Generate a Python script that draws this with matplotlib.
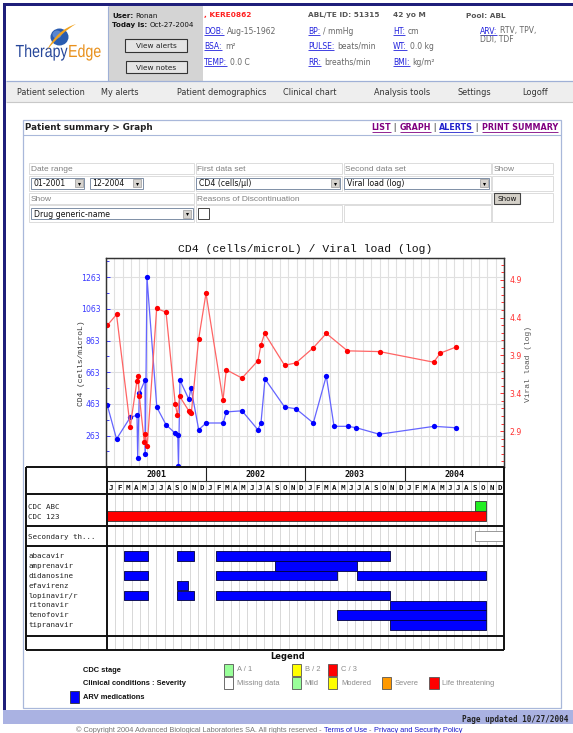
import numpy as np
import matplotlib
matplotlib.use("Agg")
import matplotlib.pyplot as plt
from matplotlib.patches import Rectangle, Ellipse, PathPatch
from matplotlib.path import Path
from matplotlib.textpath import TextPath
from matplotlib.font_manager import FontProperties
from matplotlib.transforms import Affine2D

W, H = 573, 733

# measurements, x = months counted from Jan 2001
cd4_month = [0.16, 1.27, 2.93, 3.74, 3.82, 4.02, 4.70, 4.74, 4.94, 6.13,
             7.24, 8.35, 8.65, 8.74, 8.92, 9.99, 10.25, 11.18, 12.08, 14.13,
             14.51, 16.40, 18.31, 18.69, 19.18, 21.54, 22.91, 25.00, 26.57, 27.50,
             29.15, 30.19, 32.96, 39.56, 42.21]
cd4_value = [455, 242, 379, 392, 122, 531, 613, 149, 1263, 442,
             332, 278, 269, 72, 613, 493, 564, 301, 343, 343,
             413, 420, 301, 343, 621, 444, 433, 343, 640, 322,
             322, 313, 272, 322, 313]
vl_month = [0.18, 1.27, 2.92, 3.73, 3.84, 4.02, 4.61, 4.74, 4.97, 6.11,
            7.24, 8.35, 8.62, 8.88, 9.97, 10.17, 10.29, 11.18, 12.06, 14.11,
            14.51, 16.40, 18.33, 18.69, 19.14, 21.53, 22.91, 25.00, 26.57, 29.12,
            33.00, 39.52, 40.32, 42.21]
vl_value = [4.30, 4.44, 2.96, 3.56, 3.63, 3.36, 2.76, 2.86, 2.70, 4.52,
            4.47, 3.26, 3.11, 3.36, 3.17, 3.15, 3.14, 4.12, 4.72, 3.31,
            3.71, 3.60, 3.83, 4.04, 4.19, 3.77, 3.80, 4.00, 4.19, 3.96,
            3.95, 3.81, 3.93, 4.01]

cd4_ticks = [263, 463, 663, 863, 1063, 1263]
cd4_minor = [163, 363, 563, 763, 963, 1163, 1363]
vl_ticks = [2.9, 3.4, 3.9, 4.4, 4.9]
years = ["2001", "2002", "2003", "2004"]
month_letters = list("JFMAMJJASOND")

today = 45.87
cdc_abc = [(44.5, today)]
cdc_123 = [(0.0, today)]
secondary = [(44.5, 48.0)]

drug_names = ["abacavir", "amprenavir", "didanosine", "efavirenz",
              "lopinavir/r", "ritonavir", "tenofovir", "tipranavir"]
abacavir = [(2.1, 5.0), (8.45, 10.5), (13.25, 34.3)]
amprenavir = [(20.3, 30.25)]
didanosine = [(2.1, 5.0), (13.25, 27.85), (30.25, today)]
efavirenz = [(8.45, 9.8)]
lopinavir = [(2.1, 5.0), (8.45, 10.5), (13.25, 34.3)]
ritonavir = [(34.3, today)]
tenofovir = [(27.85, today)]
tipranavir = [(34.3, today)]
drug_periods = [abacavir, amprenavir, didanosine, efavirenz,
                lopinavir, ritonavir, tenofovir, tipranavir]

plt.rcParams['font.family'] = ['DejaVu Sans']

fig = plt.figure(figsize=(W / 100, H / 100), dpi=100)
pg = fig.add_axes([0, 0, 1, 1])
pg.set_xlim(0, W)
pg.set_ylim(H, 0)
pg.axis("off")
R = fig.canvas.get_renderer()

BLUE_LINK = "#2222dd"
GRAY = "#666666"


def box(x0, y0, x1, y1, fc="none", ec="none", lw=0.8, ax=pg):
    ax.add_patch(Rectangle((x0, y0), x1 - x0, y1 - y0, facecolor=fc,
                           edgecolor=ec, linewidth=lw))


def line(xs, ys, color, lw=0.8, ax=pg):
    ax.plot(xs, ys, color=color, lw=lw, solid_capstyle="butt")


def txt(x, y, s, size=5.5, color="#333333", weight="normal",
        family="DejaVu Sans", ha="left", va="baseline", ax=pg, **kw):
    return ax.text(x, y, s, fontsize=size, color=color, fontweight=weight,
                   family=family, ha=ha, va=va, **kw)


def width(t):
    return t.get_window_extent(R).width


def pair(x, y, label, value, size=5.5):
    t = txt(x, y, label, size, BLUE_LINK)
    w = width(t)
    line([x, x + w], [y + 1.4, y + 1.4], BLUE_LINK, 0.6)
    txt(x + w + 3, y, value, size, GRAY)


def dropdown(x0, x1, y0, y1, label):
    box(x0, y0, x1, y1, fc="white", ec="#7f8fa6", lw=0.7)
    box(x1 - 9.5, y0 + 1.3, x1 - 1.3, y1 - 1.3, fc="#d6d3ce", ec="#9a9a9a", lw=0.5)
    pg.plot([x1 - 5.4], [(y0 + y1) / 2 + 0.4], marker="v", ms=2.2, color="black", mew=0)
    txt(x0 + 3, (y0 + y1) / 2 + 0.4, label, 5.6, "#111111", va="center")


# ---------- page frame ----------
box(3, 3, W, 6, fc="#1f1f7a")
box(3, 3, 6, 710, fc="#1f1f7a")

# ---------- header ----------
box(108.5, 6, 203, 81, fc="#d4d4d4")
line([108.3, 108.3], [6, 81], "#9fb0d6", 0.8)

# logo
fp = FontProperties(family="Liberation Sans")
x0 = 15.5
for word, col in [("Therapy", "#27479a"), ("Edge", "#e8901c")]:
    tp = TextPath((0, 0), word, size=1, prop=fp)
    path = Affine2D().scale(14.2, -17.5).translate(x0, 57).transform_path(tp)
    pg.add_patch(PathPatch(path, facecolor=col, edgecolor="none"))
    x0 += tp.get_extents().x1 * 14.2 + 0.5
pg.add_patch(Ellipse((59.5, 37), 18, 17, facecolor="#2a5cb0", edgecolor="none"))
pg.add_patch(Ellipse((57, 34.5), 9, 8, facecolor="#5a86cf", edgecolor="none"))
sw = Path([(47, 50), (57, 30), (76, 24), (62, 32), (47, 50)],
          [Path.MOVETO, Path.CURVE3, Path.CURVE3, Path.CURVE3, Path.CURVE3])
pg.add_patch(PathPatch(sw, facecolor="#f0a21e", edgecolor="none"))

# user box
t = txt(112, 17.5, "User:", 5.1, "#111111", "bold")
txt(112 + width(t) + 2, 17.5, "Ronan", 5.1, "#111111")
t = txt(112, 27, "Today is:", 5.1, "#111111", "bold")
txt(112 + width(t) + 2, 27, "Oct-27-2004", 5.1, "#111111")
box(125.3, 39.3, 187.3, 51.7, fc="#e4e4e4", ec="#333333", lw=0.8)
txt(156.3, 45.7, "View alerts", 5.3, "#222222", ha="center", va="center")
box(126.3, 61.3, 186.7, 73.3, fc="#e4e4e4", ec="#333333", lw=0.8)
txt(156.5, 67.5, "View notes", 5.3, "#222222", ha="center", va="center")

# patient info
b1, b2, b3, b4 = 17.5, 33.5, 48.8, 64.8
txt(204.3, b1, ", KERE0862", 5.3, "#ff2020", "bold")
txt(308, b1, "ABL/TE ID: 51315", 5.3, "#555555", "bold")
txt(393, b1, "42 yo M", 5.3, "#555555", "bold")
txt(465.7, b1, "Pool: ABL", 5.3, "#555555", "bold")
pair(204.3, b2, "DOB:", "Aug-15-1962")
pair(204.3, b3, "BSA:", "m²")
pair(204.3, b4, "TEMP:", "0.0 C")
pair(308, b2, "BP:", "/ mmHg")
pair(308, b3, "PULSE:", "beats/min")
pair(308, b4, "RR:", "breaths/min")
pair(393, b2, "HT:", "cm")
pair(393, b3, "WT:", "0.0 kg")
pair(393, b4, "BMI:", "kg/m²")
pair(480, b2, "ARV:", "RTV, TPV,")
txt(480, 42.3, "DDI, TDF", 5.5, GRAY)

# nav bar
box(6, 81, W, 101.7, fc="#eeeeee")
line([6, W], [81, 81], "#9fb0d6", 0.9)
line([6, W], [101.7, 101.7], "#c8c8c8", 0.8)
for x, s in [(16.7, "Patient selection"), (100.7, "My alerts"),
             (176.7, "Patient demographics"), (283.3, "Clinical chart"),
             (374.3, "Analysis tools"), (457.7, "Settings"), (522.7, "Logoff")]:
    txt(x, 95.2, s, 5.9, "#333333")

# ---------- panel ----------
box(22.7, 120, 560.5, 708.3, fc="white", ec="#a9b8da", lw=0.9)
line([22.7, 560.5], [134.5, 134.5], "#a9b8da", 0.8)
txt(25, 130, "Patient summary > Graph", 6.3, "#222222", "bold")
xr = 558
for s, col, ul in [("PRINT SUMMARY", "#800080", True), (" | ", "#555555", False),
                   ("ALERTS", "#2222cc", True), (" | ", "#555555", False),
                   ("GRAPH", "#800080", True), (" | ", "#555555", False),
                   ("LIST", "#800080", True)]:
    t = txt(xr, 130, s, 5.8, col, "bold", ha="right")
    w = width(t)
    if ul:
        line([xr - w, xr], [131.6, 131.6], col, 0.6)
    xr -= w

# form table
cx = [28.5, 194.8, 342.8, 491.6, 553.7]
ry = [161.7, 175, 191.7, 204.3, 222.7]
cells = [(0, 1, 0, 1), (1, 2, 0, 1), (2, 3, 0, 1), (3, 4, 0, 1),
         (0, 1, 1, 2), (1, 2, 1, 2), (2, 3, 1, 2), (3, 4, 1, 2),
         (0, 1, 2, 3), (1, 3, 2, 3), (3, 4, 2, 4),
         (0, 1, 3, 4), (1, 2, 3, 4), (2, 3, 3, 4)]
for c0, c1, r0, r1 in cells:
    box(cx[c0] + 0.8, ry[r0] + 0.8, cx[c1] - 0.8, ry[r1] - 0.8, fc="white", ec="#dcdcdc", lw=0.7)
lab = dict(size=6, color="#808080", family="Liberation Sans")
txt(31, 171, "Date range", **lab)
txt(197, 171, "First data set", **lab)
txt(345, 171, "Second data set", **lab)
txt(494, 171, "Show", **lab)
txt(31, 200.6, "Show", **lab)
txt(197, 200.6, "Reasons of Discontinuation", **lab)
dropdown(31, 84, 177.7, 188.6, "01-2001")
dropdown(89.5, 142.5, 177.7, 188.6, "12-2004")
dropdown(196, 340, 177.7, 188.6, "CD4 (cells/µl)")
dropdown(344, 489, 177.7, 188.6, "Viral load (log)")
dropdown(31, 192.6, 208.3, 219.2, "Drug generic-name")
box(198, 208.3, 209, 219.3, fc="white", ec="#444444", lw=0.7)
box(494, 192.7, 520, 204.3, fc="#d4d0c8", ec="#444444", lw=0.8)
txt(507, 198.7, "Show", 5.2, "#111111", ha="center", va="center")

# ---------- chart ----------
top, bot = 257.7, 466.7
ax = fig.add_axes([106 / W, 1 - bot / H, 398 / W, (bot - top) / H])
ax.set_zorder(3)
ax2 = ax.twinx()
ax2.set_zorder(3.1)
ax2.patch.set_visible(False)

ax.set_xlim(0, 48)
ax.set_ylim(67, 1387)
ax2.set_ylim(2.43, 5.19)

ax.set_xticks(np.arange(0, 49))
ax.tick_params(axis="x", length=0, labelbottom=False)
ax.set_yticks(cd4_ticks)
ax.set_yticks(cd4_minor, minor=True)
ax.grid(True, axis="x", color="#e0e0e0", lw=0.8)
ax.grid(True, axis="y", which="major", color="#e0e0e0", lw=0.8)
ax.set_axisbelow(True)
ax.tick_params(axis="y", which="both", direction="in", color="#3b3bff",
               labelcolor="#3b3bff", labelsize=5.6, pad=4, width=0.7)
ax.tick_params(axis="y", which="major", length=3)
ax.tick_params(axis="y", which="minor", length=2.4)

ax2.set_yticks(vl_ticks)
ax2.set_yticks(np.round(np.arange(2.5, 5.15, 0.1), 2), minor=True)
ax2.tick_params(axis="y", which="both", direction="in", color="#ff3030",
                labelcolor="#ff3030", labelsize=5.6, pad=4, width=0.7)
ax2.tick_params(axis="y", which="major", length=3)
ax2.tick_params(axis="y", which="minor", length=2.4)

for a in (ax, ax2):
    for s in a.spines.values():
        s.set_color("#333333")
        s.set_linewidth(0.9)

ax.plot(cd4_month, cd4_value, "-", color="#6464ff", lw=0.9)
ax.plot(cd4_month, cd4_value, "o", color="#0000ff", ms=3.8, mew=0)
ax2.plot(vl_month, vl_value, "-", color="#ff6464", lw=0.9)
ax2.plot(vl_month, vl_value, "o", color="#ff0000", ms=3.8, mew=0)

txt(305, 249, "CD4 (cells/microL) / Viral load (log)", 8.2, "#111111",
    family="Liberation Mono", ha="center", va="center")
txt(81.8, 363, "CD4 (cells/microL)", 5.8, "#333333", family="Liberation Mono",
    ha="center", va="center", rotation=90)
txt(528.5, 364, "Viral load (log)", 5.8, "#555555", family="Liberation Mono",
    ha="center", va="center", rotation=90)

# ---------- timeline table ----------
t_top, yr_bot, mo_bot, cdc_bot, sec_bot, drug_bot, t_bot = 467.3, 481, 493.7, 525.7, 546, 635.7, 650
gx = fig.add_axes([106.8 / W, 1 - t_bot / H, 397 / W, (t_bot - t_top) / H])
gx.set_zorder(4)
gx.set_xlim(0, 48)
gx.set_ylim(t_bot, t_top)
gx.axis("off")
box(0, t_top, 48, t_bot, fc="white", ax=gx)
gx.vlines(np.arange(1, 48), mo_bot, t_bot, color="#d2d2d2", lw=0.6)
gx.vlines(np.arange(1, 48), yr_bot, mo_bot, color="#b8b8b8", lw=0.6)
gx.vlines([12, 24, 36], t_top, yr_bot, color="#222222", lw=0.8)
for i, y in enumerate(years):
    txt(12 * i + 6, (t_top + yr_bot) / 2 + 0.3, y, 6, "#111111", "bold",
        "DejaVu Sans Mono", ha="center", va="center", ax=gx)
for k in range(48):
    txt(k + 0.5, (yr_bot + mo_bot) / 2 + 0.3, month_letters[k % 12], 5.4, "#111111",
        "bold", "DejaVu Sans Mono", ha="center", va="center", ax=gx)


def spans(periods):
    return [(a, b - a) for a, b in periods]


bar = dict(lw=0.6, zorder=3)
gx.broken_barh(spans(cdc_abc), (501.3, 10), facecolor="#22ee22", edgecolor="#333333", **bar)
gx.broken_barh(spans(cdc_123), (511.3, 10), facecolor="#ff0000", edgecolor="#333333", **bar)
gx.broken_barh(spans(secondary), (531, 10), facecolor="white", edgecolor="#888888", **bar)
row_h = 9.9
for i, periods in enumerate(drug_periods):
    gx.broken_barh(spans(periods), (551 + i * row_h, row_h - 0.3),
                   facecolor="#0000ff", edgecolor="#000040", **bar)

ov = fig.add_axes([0, 0, 1, 1])
ov.set_zorder(5)
ov.set_xlim(0, W)
ov.set_ylim(H, 0)
ov.axis("off")
L, M, Rt = 26, 106.8, 503.8
for y in [t_top, mo_bot, cdc_bot, sec_bot, drug_bot, t_bot]:
    line([L, Rt], [y, y], "#111111", 1.4, ax=ov)
line([M, Rt], [yr_bot, yr_bot], "#333333", 0.8, ax=ov)
for x in [L, M, Rt]:
    line([x, x], [t_top, t_bot], "#111111", 1.4, ax=ov)

mono = dict(size=5.4, color="#222222", family="DejaVu Sans Mono", va="center", ax=ov)
txt(28.5, 507.3, "CDC ABC", **mono)
txt(28.5, 517.3, "CDC 123", **mono)
txt(28.5, 536.7, "Secondary th...", **mono)
for i, name in enumerate(drug_names):
    txt(28.5, 551 + i * row_h + row_h / 2, name, **mono)

# ---------- legend ----------
txt(288, 656.7, "Legend", 6, "#111111", "bold", ha="center", va="center")
bl = dict(size=5.4, color="#111111", weight="bold", family="Liberation Sans", va="center")
txt(82.8, 670, "CDC stage", **bl)
txt(82.8, 683.7, "Clinical conditions : Severity", **bl)
txt(82.8, 697.3, "ARV medications", **bl)
box(70.4, 690.9, 78.6, 702.7, fc="#0000ff", ec="#333333", lw=0.6)
gl = dict(size=5.4, color="#8a8a8a", family="Liberation Sans", va="center")
for x, col, s in [(223.9, "#99ff99", "A / 1"), (291.6, "#ffff00", "B / 2"),
                  (327.9, "#ff0000", "C / 3")]:
    box(x, 663.5, x + 9.5, 675.9, fc=col, ec="#555555", lw=0.6)
    txt(x + 13, 669.7, s, **gl)
for x, col, s in [(223.9, "white", "Missing data"), (291.6, "#99ff99", "Mild"),
                  (327.9, "#ffff00", "Modered"), (381.6, "#ff9900", "Severe"),
                  (429.2, "#ff0000", "Life threatening")]:
    box(x, 676.9, x + 9.5, 689.3, fc=col, ec="#555555", lw=0.6)
    txt(x + 13, 683.1, s, **gl)

# ---------- footer ----------
box(3, 710, W, 724, fc="#aab2e2")
txt(462, 722.2, "Page updated 10/27/2004", 5.5, "#222222", "bold", "DejaVu Sans Mono")
x = 76.5
for s, col in [("© Copyright 2004 Advanced Biological Laboratories SA. All rights reserved - ", "#777777"),
               ("Terms of Use", "#1a1acc"), (" - ", "#777777"),
               ("Privacy and Security Policy", "#1a1acc")]:
    t = txt(x, 731.5, s, 5.3, col, family="Liberation Sans")
    x += width(t)

fig.savefig("out.png", dpi=100)
